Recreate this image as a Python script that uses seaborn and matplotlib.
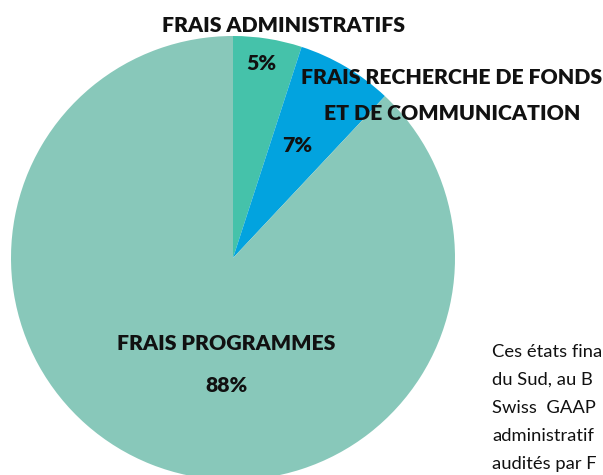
import matplotlib
matplotlib.use("Agg")
import matplotlib.pyplot as plt
import seaborn as sns

# slices, clockwise from 12 o'clock
categories = ["FRAIS ADMINISTRATIFS", "FRAIS RECHERCHE DE FONDS\nET DE COMMUNICATION", "FRAIS PROGRAMMES"]
shares = [5, 7, 88]
colors = ["#45C2AA", "#02A3DF", "#88C8BA"]

# paragraph beside the chart, as much of it as shows
body_lines = ["Ces états fina", "du Sud, au B", "Swiss  GAAP", "administratif", "audités par F"]

sns.set_theme(style="white")
plt.rcParams["font.family"] = ["Lato", "DejaVu Sans"]

W, H = 603, 475
fig = plt.figure(figsize=(W / 100, H / 100), dpi=100)
ax = fig.add_axes([0, 0, 1, 1])

# pie in pixel units, y measured from bottom
cx, cy, r = 233, H - 258, 222
ax.pie(shares, colors=colors, startangle=90, counterclock=False,
       center=(cx, cy), radius=r, wedgeprops=dict(linewidth=0))
ax.set_xlim(0, W)
ax.set_ylim(0, H)
ax.set_aspect("auto")
ax.axis("off")

lab = dict(fontsize=15.3, fontweight="heavy", color="#111111", ha="center", va="center")
ax.text(283, H - 26, categories[0], **lab)
ax.text(261, H - 63, f"{shares[0]}%", **lab)
ax.text(452, H - 78, "FRAIS RECHERCHE DE FONDS", **lab)
ax.text(452, H - 113, "ET DE COMMUNICATION", **lab)
ax.text(297, H - 145, f"{shares[1]}%", **lab)
ax.text(226, H - 343, categories[2], **lab)
ax.text(226, H - 386, f"{shares[2]}%", **lab)

for i, line in enumerate(body_lines):
    ax.text(492, H - 352 - i * 28, line, fontsize=13.2, color="#111111", ha="left", va="center")

fig.savefig("out.png", dpi=100)
